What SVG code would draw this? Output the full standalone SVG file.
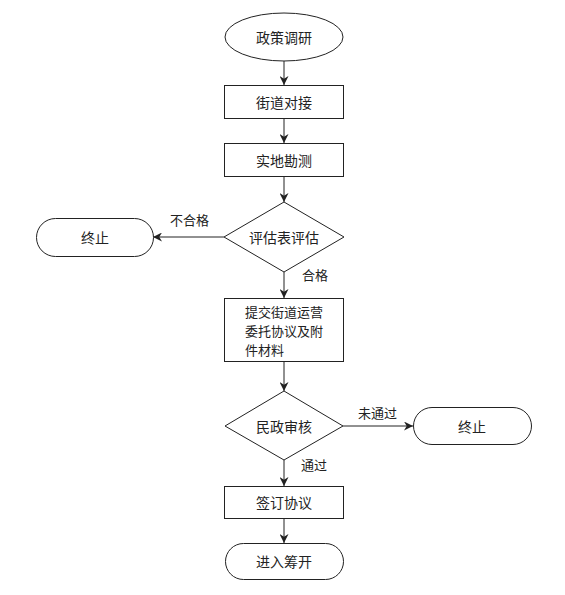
<svg xmlns="http://www.w3.org/2000/svg" width="565" height="595" viewBox="0 0 565 595">
<style>
.s{fill:#fff;stroke:#222;stroke-width:1}
.t{font-family:"Noto Sans CJK SC",sans-serif;font-size:14px;fill:#222;text-anchor:middle;dominant-baseline:central}
.m{font-family:"Noto Sans CJK SC",sans-serif;font-size:13px;fill:#222;dominant-baseline:central}
.l{font-family:"Noto Sans CJK SC",sans-serif;font-size:13px;fill:#222}
.c{fill:none;stroke:#222;stroke-width:1;marker-end:url(#a)}
</style>
<defs>
<marker id="a" viewBox="0 0 10 10" refX="10" refY="5" markerWidth="9" markerHeight="9" markerUnits="userSpaceOnUse" orient="auto">
<path d="M0,0 L10,5 L0,10 L3,5 Z" fill="#222"/>
</marker>
</defs>
<rect width="565" height="595" fill="#fff"/>
<g id="connectors">
<line class="c" x1="284" y1="61" x2="284" y2="85"/>
<line class="c" x1="284" y1="118" x2="284" y2="143"/>
<line class="c" x1="284" y1="177" x2="284" y2="202"/>
<line class="c" x1="224" y1="237" x2="153" y2="237"/>
<line class="c" x1="284" y1="272" x2="284" y2="298"/>
<line class="c" x1="284" y1="362" x2="284" y2="391"/>
<line class="c" x1="343" y1="426" x2="413" y2="426"/>
<line class="c" x1="284" y1="460" x2="284" y2="486"/>
<line class="c" x1="284" y1="518" x2="284" y2="543"/>
<text class="l" x="170" y="225">不合格</text>
<text class="l" x="302" y="280">合格</text>
<text class="l" x="358" y="418">未通过</text>
<text class="l" x="301" y="470">通过</text>
</g>
<g id="n1"><ellipse class="s" cx="284" cy="37" rx="59" ry="24"/><text class="t" x="284" y="37">政策调研</text></g>
<g id="n2"><rect class="s" x="224.5" y="85.5" width="119" height="33"/><text class="t" x="284" y="102">街道对接</text></g>
<g id="n3"><rect class="s" x="224.5" y="143.5" width="119" height="33"/><text class="t" x="284" y="160">实地勘测</text></g>
<g id="n4"><polygon class="s" points="284,202 344,237 284,272 224,237"/><text class="t" x="284" y="237">评估表评估</text></g>
<g id="n5"><rect class="s" x="36.5" y="218.5" width="117" height="38" rx="19"/><text class="t" x="95" y="237">终止</text></g>
<g id="n6"><rect class="s" x="224.5" y="298.5" width="119" height="63"/>
<text class="m" x="245" y="311">提交街道运营</text>
<text class="m" x="245" y="330">委托协议及附</text>
<text class="m" x="245" y="349">件材料</text></g>
<g id="n7"><polygon class="s" points="284,391 343,426 284,460 225,426"/><text class="t" x="284" y="426">民政审核</text></g>
<g id="n8"><rect class="s" x="413.5" y="407.5" width="118" height="37" rx="18.5"/><text class="t" x="472" y="426">终止</text></g>
<g id="n9"><rect class="s" x="224.5" y="486.5" width="119" height="32"/><text class="t" x="284" y="502">签订协议</text></g>
<g id="n10"><rect class="s" x="225.5" y="543.5" width="118" height="36" rx="18"/><text class="t" x="284" y="561">进入筹开</text></g>
</svg>
